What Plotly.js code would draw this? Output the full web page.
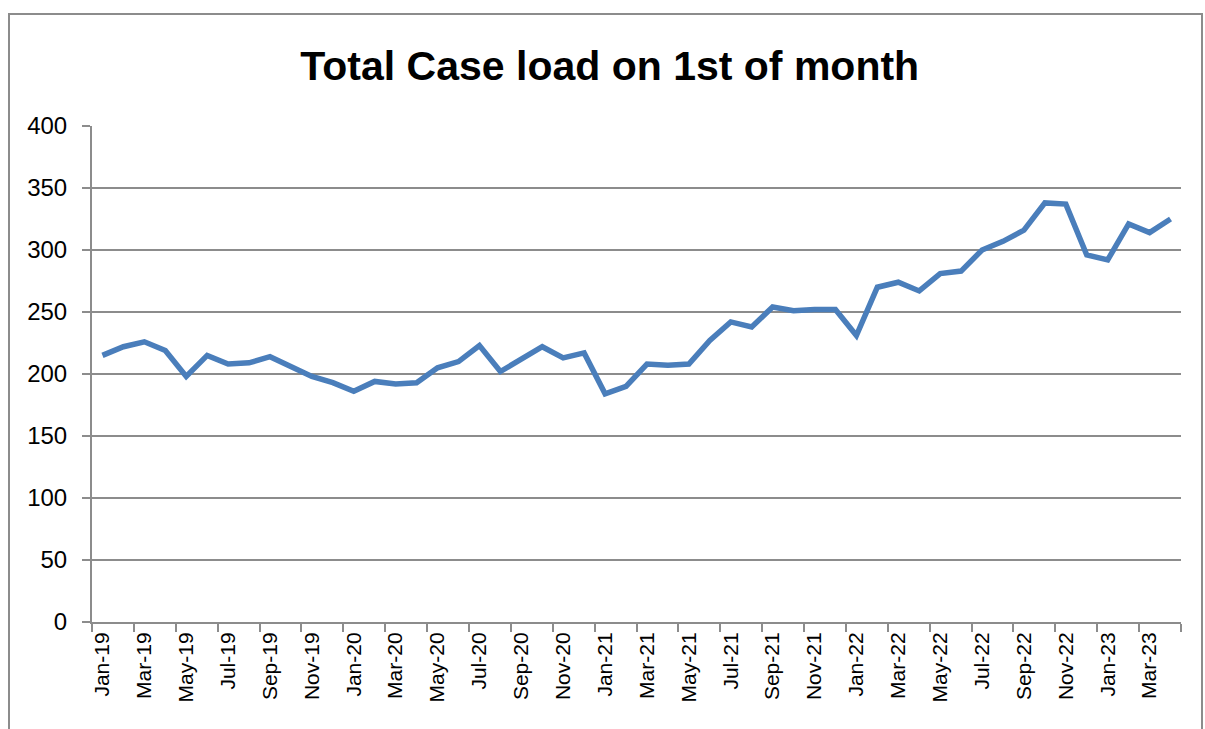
<!DOCTYPE html>
<html>
<head>
<meta charset="utf-8">
<script src="https://cdn.plot.ly/plotly-3.0.1.min.js"></script>
<style>
  html, body { margin: 0; padding: 0; background: #ffffff; }
  #frame { position: absolute; left: 8px; top: 13px; width: 1195px; height: 730px; border: 2px solid #8c8c8c; box-sizing: border-box; }
  #chart { position: absolute; left: 0; top: 0; width: 1205px; height: 729px; }
</style>
</head>
<body>
<div id="frame"></div>
<div id="chart"></div>
<script>
const months = [
  "Jan-19","Feb-19","Mar-19","Apr-19","May-19","Jun-19","Jul-19","Aug-19","Sep-19","Oct-19","Nov-19","Dec-19",
  "Jan-20","Feb-20","Mar-20","Apr-20","May-20","Jun-20","Jul-20","Aug-20","Sep-20","Oct-20","Nov-20","Dec-20",
  "Jan-21","Feb-21","Mar-21","Apr-21","May-21","Jun-21","Jul-21","Aug-21","Sep-21","Oct-21","Nov-21","Dec-21",
  "Jan-22","Feb-22","Mar-22","Apr-22","May-22","Jun-22","Jul-22","Aug-22","Sep-22","Oct-22","Nov-22","Dec-22",
  "Jan-23","Feb-23","Mar-23","Apr-23"
];
const caseLoad = [
  215, 222, 226, 219, 198, 215, 208, 209, 214, 206, 198, 193,
  186, 194, 192, 193, 205, 210, 223, 202, 212, 222, 213, 217,
  184, 190, 208, 207, 208, 227, 242, 238, 254, 251, 252, 252,
  231, 270, 274, 267, 281, 283, 300, 307, 316, 338, 337, 296,
  292, 321, 314, 325
];
const yTicks = [0, 50, 100, 150, 200, 250, 300, 350, 400];
const chartTitle = "Total Case load on 1st of month";

const trace = {
  type: "scatter",
  mode: "lines",
  x: months,
  y: caseLoad,
  line: { color: "#4a7ebb", width: 5.5 },
  hoverinfo: "x+y"
};

const layout = {
  width: 1205,
  height: 729,
  paper_bgcolor: "rgba(0,0,0,0)",
  plot_bgcolor: "rgba(0,0,0,0)",
  margin: { l: 92, r: 24, t: 126, b: 107 },
  showlegend: false,
  title: {
    text: "<b>" + chartTitle + "</b>",
    font: { family: "Liberation Sans, Arial, sans-serif", size: 41, color: "#000000" },
    x: 0.506, xanchor: "center",
    y: 0.91, yanchor: "middle", yref: "container"
  },
  xaxis: {
    type: "category",
    categoryorder: "array",
    categoryarray: months,
    range: [-0.5, months.length - 0.5],
    tickmode: "linear",
    tick0: 0,
    dtick: 2,
    tickson: "boundaries",
    ticks: "outside",
    ticklen: 8,
    tickwidth: 2,
    tickcolor: "#8c8c8c",
    tickangle: -90,
    tickfont: { family: "Liberation Sans, Arial, sans-serif", size: 21, color: "#000000" },
    showgrid: false,
    showline: true,
    linecolor: "#8c8c8c",
    linewidth: 2,
    zeroline: false,
    fixedrange: true
  },
  yaxis: {
    range: [0, 400],
    tickmode: "array",
    tickvals: yTicks,
    ticktext: yTicks.map(String),
    ticks: "outside",
    ticklen: 8,
    tickwidth: 2,
    tickcolor: "#8c8c8c",
    ticklabelstandoff: 10,
    tickfont: { family: "Liberation Sans, Arial, sans-serif", size: 24, color: "#000000" },
    showgrid: true,
    gridcolor: "#8c8c8c",
    gridwidth: 2,
    showline: true,
    linecolor: "#8c8c8c",
    linewidth: 2,
    zeroline: false,
    fixedrange: true
  }
};

Plotly.newPlot("chart", [trace], layout, { displayModeBar: false, staticPlot: true });
</script>
</body>
</html>
